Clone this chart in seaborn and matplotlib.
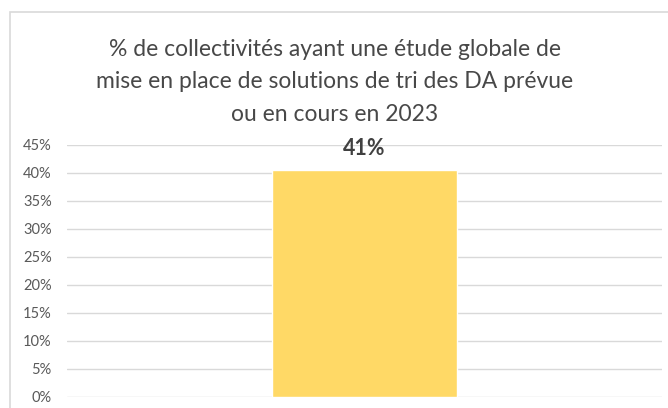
import matplotlib
matplotlib.use('Agg')
import matplotlib.pyplot as plt
import seaborn as sns
import pandas as pd
from matplotlib.patches import Rectangle
from matplotlib.ticker import PercentFormatter

# Data
categories = ['']
values = [0.405]
labels = ['41%']
title = ('% de collectivités ayant une étude globale de\n'
         'mise en place de solutions de tri des DA prévue\n'
         'ou en cours en 2023')

df = pd.DataFrame({'cat': categories, 'val': values})

sns.set_style('white')
plt.rcParams['font.family'] = ['Lato', 'DejaVu Sans']

fig = plt.figure(figsize=(6.68, 4.08), dpi=100)
ax = fig.add_axes([67 / 668, 11 / 408, 595 / 668, 252 / 408])

# outer chart frame (clipped at right/bottom like the screenshot)
fig.patches.append(Rectangle((10 / 668, -0.1), 1.2, (408 - 12) / 408 + 0.1,
                             transform=fig.transFigure, fill=False,
                             edgecolor='#d9d9d9', linewidth=1.2))

sns.barplot(data=df, x='cat', y='val', color='#ffd966', saturation=1,
            width=0.31, ax=ax, zorder=3)

ax.set_ylim(0, 0.45)
ax.set_xlim(-0.5, 0.5)
ax.set_yticks([i * 0.05 for i in range(10)])
ax.yaxis.set_major_formatter(PercentFormatter(1.0, decimals=0))
ax.grid(axis='y', color='#d9d9d9', linewidth=1, zorder=0)
for s in ax.spines.values():
    s.set_visible(False)
ax.tick_params(axis='y', length=0, labelsize=10.5, labelcolor='#595959', pad=11)
ax.tick_params(axis='x', length=0)
ax.set_xlabel('')
ax.set_ylabel('')
ax.set_xticklabels([])

for bar, lab in zip(ax.patches, labels):
    ax.text(bar.get_x() + bar.get_width() / 2, bar.get_height() + 0.039, lab,
            ha='center', va='center', fontsize=15.5, fontweight='bold',
            color='#404040', zorder=4)

fig.text(335 / 668, 1 - 82 / 408, title, ha='center', va='center',
         fontsize=16.5, color='#484848', linespacing=1.68)

fig.savefig('out.png', dpi=100)
